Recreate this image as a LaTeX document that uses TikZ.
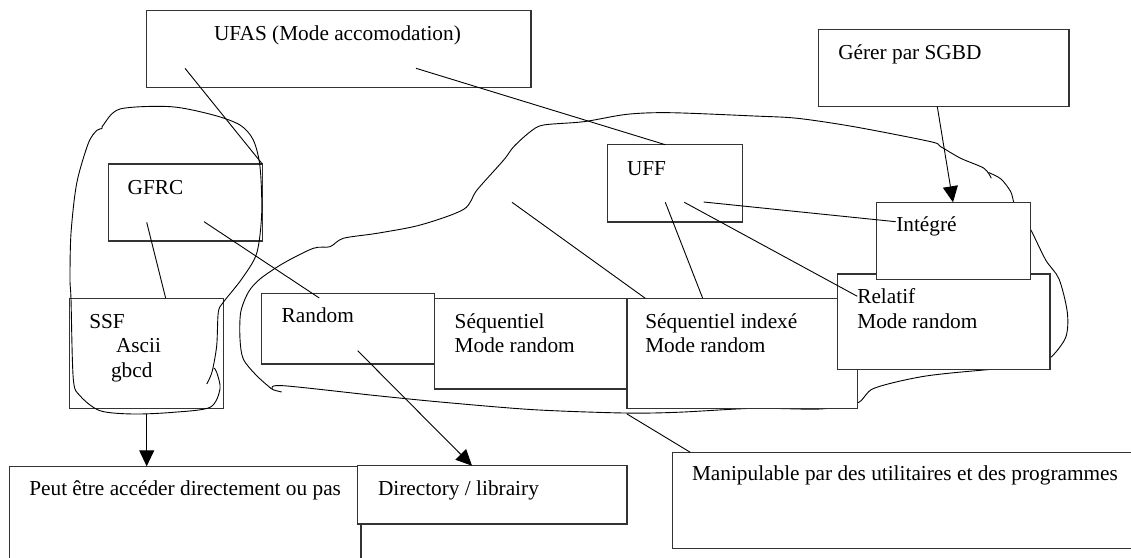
\documentclass[tikz,border=0pt]{standalone}
\usepackage{fontspec}
\setmainfont{Liberation Serif}
\usetikzlibrary{arrows.meta,fit}
\begin{document}
\begin{tikzpicture}[x=1pt,y=-1pt,
  box/.style={draw=black!80, line width=1.1pt, fill=white, inner sep=0pt, outer sep=0pt},
  lbl/.style={anchor=base west, inner sep=0pt, outer sep=0pt, font=\fontsize{21.3}{25}\selectfont},
  conn/.style={line width=0.9pt},
  arr/.style={conn, -{Triangle[length=16pt,width=15pt]}},
  blob/.style={line width=0.9pt}]
\useasboundingbox (0,0) rectangle (1131,557);
\clip (0,0) rectangle (1131,557);

% right freehand outline (drawn first, hidden behind boxes)
\draw[blob] plot[smooth, tension=0.5] coordinates {(271.7,389) (256.7,375.7) (243.3,359) (240,339) (240.7,312.3) (248.3,292.3) (260,279) (283.3,263.3) (313.3,248.3) (330,246.7) (343.3,238.3) (377,233.3) (420.3,225) (463.7,209.3) (477,190) (503.7,160) (513.7,146.7) (530.3,131.7) (543.7,125) (583.7,121.7) (627,114.3) (670.3,112.7) (754,116) (797.3,118.3) (854,126.7) (930.7,141.7) (940.7,146.7) (960.7,158.3) (984,168.3) (991.3,178.3)};
\draw[blob] plot[smooth, tension=0.5] coordinates {(988.5,172.5) (1001,179) (1010.7,191.7) (1014,203) (1020,215) (1030.3,229) (1045.7,260) (1059,279) (1067.3,312.3) (1065.7,337.3) (1050,358) (1030,367) (987.3,369.7) (924,376.3) (874,388.3) (857.3,403) (820,409) (754,408.3) (677,412.3) (623.7,413) (533.7,409.7) (443.7,402.3) (377,395.7) (283.3,385.7) (272,389) (281.7,392)};

% boxes
\node[box, fit={(146.7,10.3) (531,87.3)}] (ufas) {};
\node[box, fit={(818.3,29.3) (1069,106.7)}] (gerer) {};
\node[box, fit={(607.3,144.7) (742.7,222)}] (uff) {};
\node[box, fit={(108.3,164) (262.3,241)}] (gfrc) {};
\node[box, fit={(69.7,298.3) (223.7,408.3)}] (ssf) {};
\node[box, fit={(261.7,293.3) (434.3,364)}] (random) {};
\node[box, fit={(434.3,298.3) (627,389)}] (seq) {};
\node[box, fit={(627,298.3) (857.3,408.7)}] (seqidx) {};
\node[box, fit={(837.3,274) (1050,369.7)}] (relatif) {};
\node[box, fit={(876.7,202.3) (1030.3,279.3)}] (integre) {};
\node[box, fit={(9.3,466.3) (361,570)}] (peut) {};
\node[box, fit={(357.7,465.7) (627,524)}] (dir) {};
\node[box, fit={(672.7,452.3) (1140,548.3)}] (manip) {};

% left freehand outline
\draw[blob] plot[smooth, tension=0.5] coordinates {(206.7,384) (212,372) (216.7,345.7) (218.3,312.3) (223.3,302.3) (241.7,279) (256.7,253.3) (261.7,213.3) (260,166.7) (253.3,140) (240,125) (213.3,115) (171,106.7) (120,109) (103.3,125) (102,128.5) (96.7,130.5) (88.3,143.3) (76.7,183.3) (71,233.3) (70,279) (71,299) (73.3,379) (80,395.7) (100,410.7) (133.3,414) (173.3,412.3) (210,407.3) (220,389) (216.7,372.3) (214,368)};

% texts
\node[lbl] (t-ufas) at (214,40) {UFAS (Mode accomodation)};
\node[lbl] (t-gerer) at (838.3,59.3) {Gérer par SGBD};
\node[lbl] (t-uff) at (627,175) {UFF};
\node[lbl] (t-gfrc) at (127.7,194) {GFRC};
\node[lbl] (t-integre) at (896.3,231.7) {Intégré};
\node[lbl] (t-rel1) at (857.3,303.5) {Relatif};
\node[lbl] (t-rel2) at (857.3,328) {Mode random};
\node[lbl] (t-ssf1) at (89.3,328.3) {SSF};
\node[lbl] (t-ssf2) at (116,352.3) {Ascii};
\node[lbl] (t-ssf3) at (111,377.3) {gbcd};
\node[lbl] (t-random) at (281.7,322.3) {Random};
\node[lbl] (t-seq1) at (454.7,328.3) {Séquentiel};
\node[lbl] (t-seq2) at (454.7,352.3) {Mode random};
\node[lbl] (t-idx1) at (645.3,328.3) {Séquentiel indexé};
\node[lbl] (t-idx2) at (645.3,352.3) {Mode random};
\node[lbl] (t-peut) at (29.3,495.7) {Peut être accéder directement ou pas};
\node[lbl] (t-dir) at (378,495.7) {Directory / librairy};
\node[lbl] (t-manip) at (692,480.7) {Manipulable par des utilitaires et des programmes};

% connector end points
\coordinate (a1) at (185,68.3);
\coordinate (a2) at (416,68.3);
\coordinate (b2) at (665.3,144.7);
\coordinate (a3) at (146.7,222.3);
\coordinate (b3) at (165.7,298.3);
\coordinate (a4) at (204,221.7);
\coordinate (b4) at (319.3,298);
\coordinate (a5) at (357.7,350.7);
\coordinate (b5) at (472,465.7);
\coordinate (a7) at (937.3,106.7);
\coordinate (b7) at (953,202.3);
\coordinate (a8) at (703.7,202);
\coordinate (b8) at (895.7,221.7);
\coordinate (a9) at (665.3,202.3);
\coordinate (b9) at (702.7,298.3);
\coordinate (a10) at (684.3,202.3);
\coordinate (b10) at (857.3,296.3);
\coordinate (a11) at (512,202.3);
\coordinate (b11) at (645.3,298.3);
\coordinate (a12) at (627,414);
\coordinate (b12) at (690.3,452.3);

% connectors
\draw[conn] (a1) -- (gfrc.north east);
\draw[conn] (a2) -- (b2);
\draw[conn] (a3) -- (b3);
\draw[conn] (a4) -- (b4);
\draw[arr] (a5) -- (b5);
\draw[arr, shorten <=5.7pt] (ssf.south) -- (ssf.south |- peut.north);
\draw[arr] (a7) -- (b7);
\draw[conn] (a8) -- (b8);
\draw[conn] (a9) -- (b9);
\draw[conn] (a10) -- (b10);
\draw[conn] (a11) -- (b11);
\draw[conn] (a12) -- (b12);
\end{tikzpicture}
\end{document}
